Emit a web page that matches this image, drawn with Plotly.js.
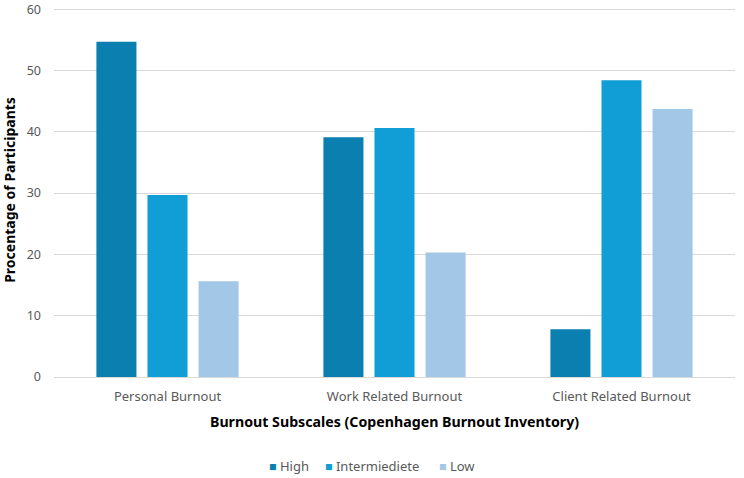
<!DOCTYPE html>
<html><head><meta charset="utf-8">
<script src="https://cdn.plot.ly/plotly-3.0.1.min.js"></script>
<style>html,body{margin:0;padding:0;background:#fff;}#chart{width:744px;height:478px;}</style>
</head><body><div id="chart"></div>
<script>
const categories = ["Personal Burnout", "Work Related Burnout", "Client Related Burnout"];
const seriesNames = ["High", "Intermiediete", "Low"];
const highValues = [54.7, 39.1, 7.8];
const intermediateValues = [29.7, 40.6, 48.4];
const lowValues = [15.6, 20.3, 43.7];
const yTicks = [0, 10, 20, 30, 40, 50, 60];
const colors = ["#0B7FAF", "#119ED7", "#A2C7E7"];

const FONT = "Noto Sans, sans-serif";
const values = [highValues, intermediateValues, lowValues];
const traces = seriesNames.map((n, i) => ({
  type: "bar", name: n, x: categories, y: values[i],
  marker: {color: colors[i]}, hoverinfo: "skip", showlegend: false
}));

// custom legend (compact, like the reference)
const legendX = [0.313, 0.395, 0.563];
const annotations = seriesNames.map((n, i) => ({
  xref: "paper", yref: "paper", x: legendX[i], y: -0.237, xanchor: "left", yanchor: "middle",
  showarrow: false, align: "left",
  text: "<span style='color:" + colors[i] + ";font-size:12.5px'>■</span> " + n,
  font: {family: FONT, size: 13, color: "#595959"}
}));

const layout = {
  width: 744, height: 478,
  margin: {l: 54, r: 9, t: 3, b: 101},
  paper_bgcolor: "#fff", plot_bgcolor: "#fff",
  barmode: "group", bargap: 0.325, bargroupgap: 0.216,
  font: {family: FONT, color: "#595959", size: 13},
  xaxis: {
    showline: false, ticks: "", tickfont: {size: 13, color: "#595959"}, ticklabelstandoff: 10,
    title: {text: "Burnout Subscales (Copenhagen Burnout Inventory)", font: {size: 14.2, color: "#000", weight: "bold"}, standoff: 13}
  },
  yaxis: {
    range: [0, 61], tickvals: yTicks, ticktext: yTicks.map(String),
    showgrid: true, gridcolor: "#D9D9D9", gridwidth: 1,
    zeroline: true, zerolinecolor: "#D9D9D9", zerolinewidth: 1,
    showline: false, ticks: "", ticklabelstandoff: 12, ticklabeloverflow: "allow",
    tickfont: {size: 12.5, color: "#595959"},
    title: {text: "Procentage of Participants", font: {size: 14, color: "#000", weight: "bold"}, standoff: 14}
  },
  annotations: annotations,
  showlegend: false
};
Plotly.newPlot("chart", traces, layout, {displayModeBar: false, staticPlot: true});
</script></body></html>
